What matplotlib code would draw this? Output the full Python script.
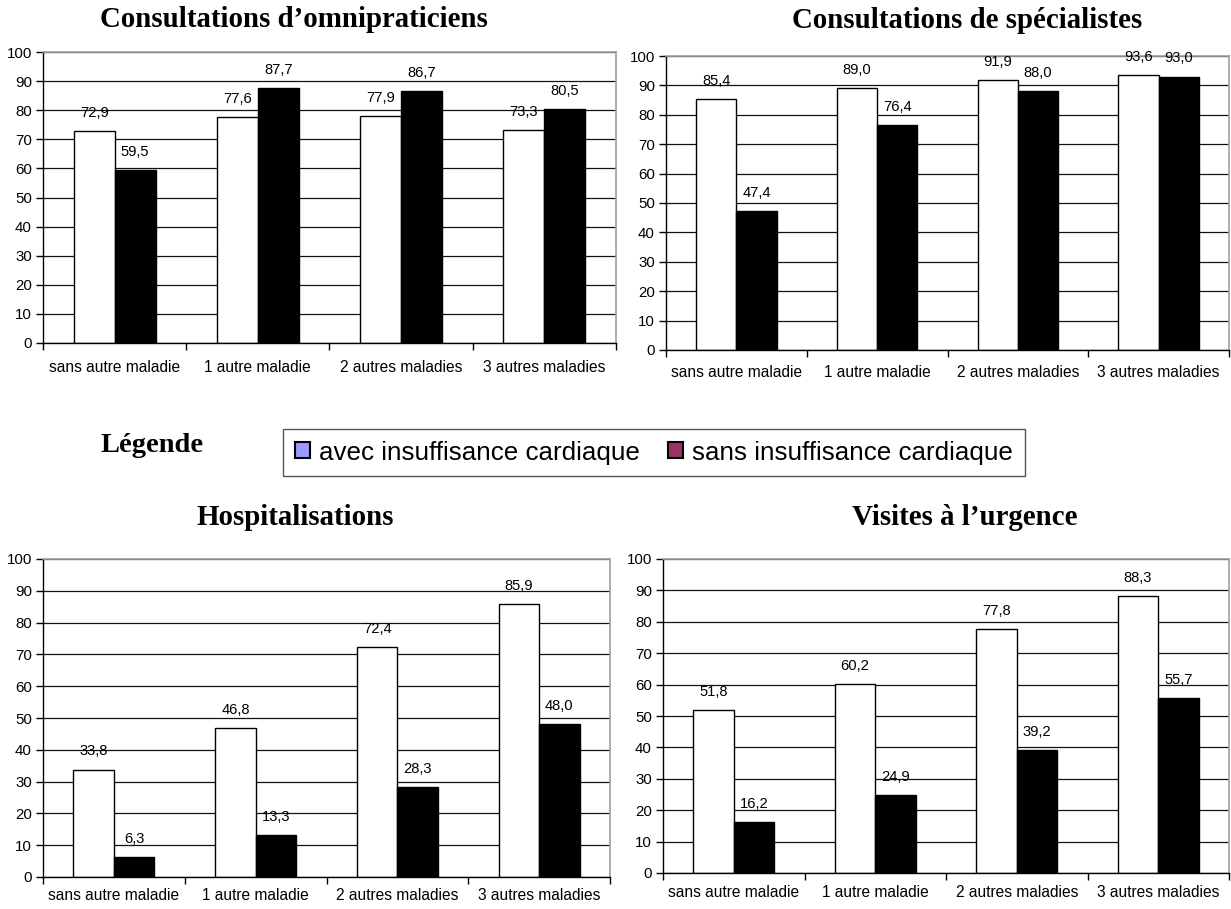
import numpy as np
import matplotlib.pyplot as plt
from matplotlib.patches import Patch

categories = ['sans autre maladie', '1 autre maladie', '2 autres maladies', '3 autres maladies']

omni_avec = [72.9, 77.6, 77.9, 73.3]
omni_sans = [59.5, 87.7, 86.7, 80.5]
spec_avec = [85.4, 89.0, 91.9, 93.6]
spec_sans = [47.4, 76.4, 88.0, 93.0]
hosp_avec = [33.8, 46.8, 72.4, 85.9]
hosp_sans = [6.3, 13.3, 28.3, 48.0]
urg_avec = [51.8, 60.2, 77.8, 88.3]
urg_sans = [16.2, 24.9, 39.2, 55.7]

titles = ['Consultations d\u2019omnipraticiens', 'Consultations de sp\u00e9cialistes',
          'Hospitalisations', 'Visites \u00e0 l\u2019urgence']
legend_labels = ['avec insuffisance cardiaque', 'sans insuffisance cardiaque']

plt.rcParams['font.family'] = ['Liberation Sans', 'DejaVu Sans']

W, H = 1231, 909
fig = plt.figure(figsize=(W / 100, H / 100), dpi=100)

# axes boxes in pixels: left, top, right, bottom
boxes = [(43, 52, 616, 343), (666, 56, 1229, 350),
         (43, 559, 610, 877), (663, 559, 1229, 873)]
# title centre x and baseline y, in pixels
title_pos = [(294, 27), (967, 28), (295, 525), (965, 525)]
xpads = [12, 10.5, 8, 8.5]
data = [(omni_avec, omni_sans), (spec_avec, spec_sans),
        (hosp_avec, hosp_sans), (urg_avec, urg_sans)]

x = np.arange(len(categories))
bw = 0.2857

def fmt(v):
    return f'{v:.1f}'.replace('.', ',')

for (l, t, r, b), (tx, ty), pad, title, (avec, sans) in zip(boxes, title_pos, xpads, titles, data):
    ax = fig.add_axes([l / W, 1 - b / H, (r - l) / W, (b - t) / H])
    ax.set_axisbelow(True)
    ax.yaxis.grid(True, color='#111111', lw=0.9)
    b1 = ax.bar(x - bw / 2, avec, bw, color='white', edgecolor='black', lw=1.0)
    b2 = ax.bar(x + bw / 2, sans, bw, color='black', edgecolor='black', lw=1.0)
    for bars, vals in ((b1, avec), (b2, sans)):
        for rect, v in zip(bars, vals):
            ax.annotate(fmt(v), (rect.get_x() + rect.get_width() / 2, v),
                        xytext=(0, 8), textcoords='offset points',
                        ha='center', va='bottom', fontsize=10.6)
    ax.set_xlim(-0.5, len(categories) - 0.5)
    ax.set_ylim(0, 100)
    ax.set_yticks(range(0, 101, 10))
    ax.set_xticks(x)
    ax.set_xticklabels(categories, fontsize=11.2)
    ax.set_xticks(np.arange(-0.5, len(categories), 1.0), minor=True)
    ax.tick_params(axis='x', which='major', length=0, pad=pad)
    ax.tick_params(axis='x', which='minor', length=5, width=1, direction='out')
    ax.tick_params(axis='y', labelsize=10.8, length=5, width=1, direction='out', pad=3)
    for s in ('top', 'right'):
        ax.spines[s].set_color('#a0a0a0')
        ax.spines[s].set_linewidth(1.2)
    for s in ('left', 'bottom'):
        ax.spines[s].set_color('black')
        ax.spines[s].set_linewidth(1.0)
    fig.text(tx / W, 1 - ty / H, title, ha='center', va='baseline',
             family='Liberation Serif', weight='bold', fontsize=20.8)

fig.text(152 / W, 1 - 452 / H, 'L\u00e9gende', ha='center', va='baseline',
         family='Liberation Serif', weight='bold', fontsize=20.5)

handles = [Patch(facecolor='#9999FF', edgecolor='black', lw=1.5),
           Patch(facecolor='#993366', edgecolor='black', lw=1.5)]
fig.legend(handles, legend_labels, ncol=2, loc='center',
           bbox_to_anchor=(654 / W, 1 - 452.5 / H), fontsize=18.7,
           frameon=True, fancybox=False, edgecolor='#555555', framealpha=1,
           handlelength=0.58, handleheight=0.58, handletextpad=0.35,
           columnspacing=1.1, borderpad=0.45, borderaxespad=0)

fig.savefig('out.png', dpi=100)
